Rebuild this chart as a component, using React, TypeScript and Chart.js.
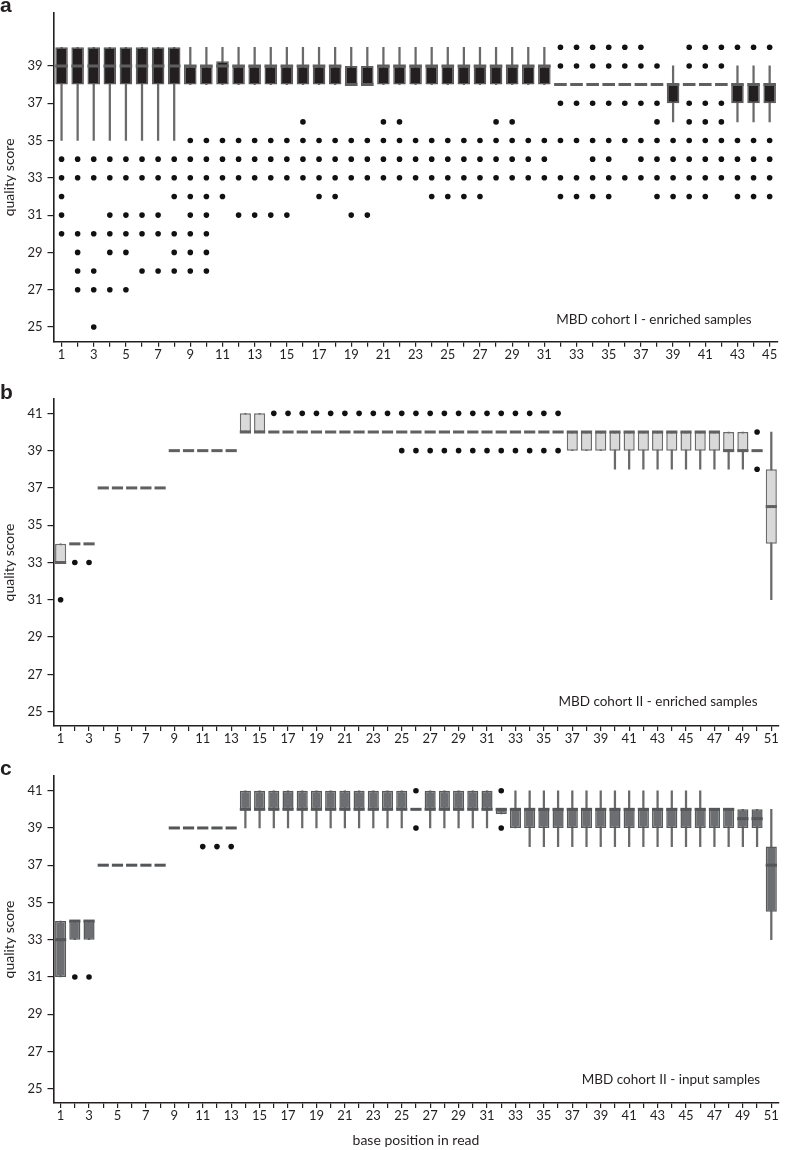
import React, { useEffect, useRef } from 'react';
import { Chart, registerables } from 'chart.js';
Chart.register(...registerables);

// ---------- categories ----------
const POS_A = ['1','2','3','4','5','6','7','8','9','10','11','12','13','14','15','16','17','18','19','20','21','22','23','24','25','26','27','28','29','30','31','32','33','34','35','36','37','38','39','40','41','42','43','44','45'];
const POS_BC = ['1','2','3','4','5','6','7','8','9','10','11','12','13','14','15','16','17','18','19','20','21','22','23','24','25','26','27','28','29','30','31','32','33','34','35','36','37','38','39','40','41','42','43','44','45','46','47','48','49','50','51'];
const Y_TICKS_A = [25, 27, 29, 31, 33, 35, 37, 39];
const Y_TICKS_BC = [25, 27, 29, 31, 33, 35, 37, 39, 41];

// ---------- panel a: MBD cohort I - enriched ----------
const A_Q1 = [
  38, 38, 38, 38, 38, 38, 38, 38, 38, 38,
  38, 38, 38, 38, 38, 38, 38, 38, 38, 38,
  38, 38, 38, 38, 38, 38, 38, 38, 38, 38,
  38, 38, 38, 38, 38, 38, 38, 38, 37, 38,
  38, 38, 37, 37, 37,
];
const A_Q3 = [
  40, 40, 40, 40, 40, 40, 40, 40, 39, 39,
  39.25, 39, 39, 39, 39, 39, 39, 39, 39, 39,
  39, 39, 39, 39, 39, 39, 39, 39, 39, 39,
  39, 38, 38, 38, 38, 38, 38, 38, 38, 38,
  38, 38, 38, 38, 38,
];
const A_MED = [
  39, 39, 39, 39, 39, 39, 39, 39, 39, 39,
  39, 39, 39, 39, 39, 39, 39, 39, 38, 38,
  39, 39, 39, 39, 39, 39, 39, 39, 39, 39,
  39, 38, 38, 38, 38, 38, 38, 38, 38, 38,
  38, 38, 38, 38, 38,
];
const A_WLO = [
  35, 35, 35, 35, 35, 35, 35, 35, 38, 38,
  38, 38, 38, 38, 38, 38, 38, 38, 38, 38,
  38, 38, 38, 38, 38, 38, 38, 38, 38, 38,
  38, 38, 38, 38, 38, 38, 38, 38, 36, 38,
  38, 38, 36, 36, 36,
];
const A_WHI = [
  40, 40, 40, 40, 40, 40, 40, 40, 40, 40,
  40, 40, 40, 40, 40, 40, 40, 40, 40, 40,
  40, 40, 40, 40, 40, 40, 40, 40, 40, 40,
  40, 38, 38, 38, 38, 38, 38, 38, 39, 38,
  38, 38, 39, 39, 39,
];
const A_OUT = [
  [34, 33, 32, 31, 30],
  [34, 33, 30, 29, 28, 27],
  [34, 33, 30, 28, 27, 25],
  [34, 33, 31, 30, 29, 27],
  [34, 33, 31, 30, 29, 27],
  [34, 33, 31, 30, 28],
  [34, 33, 31, 30, 28],
  [34, 33, 32, 30, 29, 28],
  [35, 34, 33, 32, 31, 30, 29, 28],
  [35, 34, 33, 32, 31, 30, 29, 28],
  [35, 34, 33, 32],
  [35, 34, 33, 31],
  [35, 34, 33, 31],
  [35, 34, 33, 31],
  [35, 34, 33, 31],
  [36, 35, 34, 33],
  [35, 34, 33, 32],
  [35, 34, 33, 32],
  [35, 34, 33, 31],
  [35, 34, 33, 31],
  [36, 35, 34, 33],
  [36, 35, 34, 33],
  [35, 34, 33],
  [35, 34, 33, 32],
  [35, 34, 33, 32],
  [35, 34, 33, 32],
  [35, 34, 33, 32],
  [36, 35, 34, 33],
  [36, 35, 34, 33],
  [35, 34, 33],
  [35, 34, 33],
  [40, 39, 37, 35, 33, 32],
  [40, 39, 37, 35, 33, 32],
  [40, 39, 37, 35, 34, 33, 32],
  [40, 39, 37, 35, 34, 33, 32],
  [40, 39, 37, 35, 33],
  [40, 39, 37, 35, 34, 33],
  [39, 37, 36, 35, 34, 33, 32],
  [35, 34, 33, 32],
  [40, 39, 37, 36, 35, 34, 33, 32],
  [40, 39, 37, 36, 35, 34, 33, 32],
  [40, 39, 37, 36, 35, 34, 33],
  [40, 35, 34, 33, 32],
  [40, 35, 34, 33, 32],
  [40, 35, 34, 33, 32],
];

// ---------- panel b: MBD cohort II - enriched ----------
const B_Q1 = [
  33, 34, 34, 37, 37, 37, 37, 37, 39, 39,
  39, 39, 39, 40, 40, 40, 40, 40, 40, 40,
  40, 40, 40, 40, 40, 40, 40, 40, 40, 40,
  40, 40, 40, 40, 40, 40, 39, 39, 39, 39,
  39, 39, 39, 39, 39, 39, 39, 39, 39, 39,
  34,
];
const B_Q3 = [
  34, 34, 34, 37, 37, 37, 37, 37, 39, 39,
  39, 39, 39, 41, 41, 40, 40, 40, 40, 40,
  40, 40, 40, 40, 40, 40, 40, 40, 40, 40,
  40, 40, 40, 40, 40, 40, 40, 40, 40, 40,
  40, 40, 40, 40, 40, 40, 40, 40, 40, 39,
  38,
];
const B_MED = [
  33, 34, 34, 37, 37, 37, 37, 37, 39, 39,
  39, 39, 39, 40, 40, 40, 40, 40, 40, 40,
  40, 40, 40, 40, 40, 40, 40, 40, 40, 40,
  40, 40, 40, 40, 40, 40, 40, 40, 40, 40,
  40, 40, 40, 40, 40, 40, 40, 39, 39, 39,
  36,
];
const B_WLO = [
  33, 34, 34, 37, 37, 37, 37, 37, 39, 39,
  39, 39, 39, 40, 40, 40, 40, 40, 40, 40,
  40, 40, 40, 40, 40, 40, 40, 40, 40, 40,
  40, 40, 40, 40, 40, 40, 39, 39, 39, 38,
  38, 38, 38, 38, 38, 38, 38, 38, 38, 39,
  31,
];
const B_WHI = [
  34, 34, 34, 37, 37, 37, 37, 37, 39, 39,
  39, 39, 39, 41, 41, 40, 40, 40, 40, 40,
  40, 40, 40, 40, 40, 40, 40, 40, 40, 40,
  40, 40, 40, 40, 40, 40, 40, 40, 40, 40,
  40, 40, 40, 40, 40, 40, 40, 40, 40, 39,
  40,
];
const B_OUT = [
  [31], [33], [33], [], [], [], [], [], [], [],
  [], [], [], [], [], [41], [41], [41], [41], [41],
  [41], [41], [41], [41], [41, 39], [41, 39], [41, 39], [41, 39], [41, 39], [41, 39],
  [41, 39], [41, 39], [41, 39], [41, 39], [41, 39], [41, 39], [], [], [], [],
  [], [], [], [], [], [], [], [], [], [40, 38],
  [],
];

// ---------- panel c: MBD cohort II - input ----------
const C_Q1 = [
  31, 33, 33, 37, 37, 37, 37, 37, 39, 39,
  39, 39, 39, 40, 40, 40, 40, 40, 40, 40,
  40, 40, 40, 40, 40, 40, 40, 40, 40, 40,
  40, 39.75, 39, 39, 39, 39, 39, 39, 39, 39,
  39, 39, 39, 39, 39, 39, 39, 39, 39, 39,
  34.5,
];
const C_Q3 = [
  34, 34, 34, 37, 37, 37, 37, 37, 39, 39,
  39, 39, 39, 41, 41, 41, 41, 41, 41, 41,
  41, 41, 41, 41, 41, 40, 41, 41, 41, 41,
  41, 40.05, 40, 40, 40, 40, 40, 40, 40, 40,
  40, 40, 40, 40, 40, 40, 40, 40, 40, 40,
  38,
];
const C_MED = [
  33, 34, 34, 37, 37, 37, 37, 37, 39, 39,
  39, 39, 39, 40, 40, 40, 40, 40, 40, 40,
  40, 40, 40, 40, 40, 40, 40, 40, 40, 40,
  40, 40, 40, 40, 40, 40, 40, 40, 40, 40,
  40, 40, 40, 40, 40, 40, 40, 40, 39.5, 39.5,
  37,
];
const C_WLO = [
  31, 33, 33, 37, 37, 37, 37, 37, 39, 39,
  39, 39, 39, 39, 39, 39, 39, 39, 39, 39,
  39, 39, 39, 39, 39, 40, 39, 39, 39, 39,
  39, 39.75, 39, 38, 38, 38, 38, 38, 38, 38,
  38, 38, 38, 38, 38, 38, 38, 38, 38, 38,
  33,
];
const C_WHI = [
  34, 34, 34, 37, 37, 37, 37, 37, 39, 39,
  39, 39, 39, 41, 41, 41, 41, 41, 41, 41,
  41, 41, 41, 41, 41, 40, 41, 41, 41, 41,
  41, 40.05, 41, 41, 41, 41, 41, 41, 41, 41,
  41, 41, 41, 41, 41, 41, 40, 40, 40, 40,
  40,
];
const C_OUT = [
  [], [31], [31], [], [], [], [], [], [], [],
  [38], [38], [38], [], [], [], [], [], [], [],
  [], [], [], [], [], [41, 39], [], [], [], [],
  [], [41, 39], [], [], [], [], [], [], [], [],
  [], [], [], [], [], [], [], [], [], [],
  [],
];

const FONT = 'Lato';
const INK = '#231f20';

type Spec = {
  labels: string[];
  q1: number[]; q3: number[]; med: number[]; wlo: number[]; whi: number[]; out: number[][];
  yTicks: number[]; yMin: number; yMax: number;
  padTop: number; xAxisH: number; xTitle?: string;
  fill: string; border: string; median: string; whisker: string; medRadius: number;
};

function buildConfig(p: Spec): any {
  const boxes = p.labels.map((_, i) => (p.q1[i] === p.q3[i] ? null : [p.q1[i], p.q3[i]]));
  const whiskers = p.labels.map((_, i) => (p.wlo[i] === p.whi[i] ? null : [p.wlo[i], p.whi[i]]));
  const medians = p.labels.map((l, i) => ({ x: l, y: p.med[i] }));
  const outliers: { x: string; y: number }[] = [];
  p.out.forEach((arr, i) => arr.forEach((v) => outliers.push({ x: p.labels[i], y: v })));

  return {
    type: 'bar',
    data: {
      labels: p.labels,
      datasets: [
        {
          type: 'scatter', data: outliers, order: 0,
          pointRadius: 2.8, pointHoverRadius: 2.8, pointBackgroundColor: '#111', pointBorderWidth: 0,
        },
        {
          type: 'scatter', data: medians, order: 1,
          pointStyle: 'line', pointRadius: p.medRadius, pointHoverRadius: p.medRadius,
          pointBorderColor: p.median, pointBorderWidth: 3,
        },
        {
          type: 'bar', data: boxes, order: 2, grouped: false,
          backgroundColor: p.fill, borderColor: p.border, borderWidth: 1.5, borderSkipped: false,
          categoryPercentage: 1, barPercentage: 0.78,
        },
        {
          type: 'bar', data: whiskers, order: 3, grouped: false,
          backgroundColor: p.whisker, borderWidth: 0, barThickness: 1.6,
        },
      ],
    },
    options: {
      responsive: false,
      animation: false,
      events: [],
      layout: { padding: { top: p.padTop, right: 3.5, left: 0, bottom: 0 } },
      plugins: { legend: { display: false }, tooltip: { enabled: false } },
      scales: {
        x: {
          type: 'category',
          offset: true,
          grid: { display: true, drawOnChartArea: false, drawTicks: true, tickLength: 5, offset: false, color: INK, lineWidth: 1.2 },
          border: { display: true, color: INK, width: 1.6 },
          ticks: {
            autoSkip: false, maxRotation: 0, minRotation: 0, padding: 0, color: INK,
            font: { family: FONT, size: 13 },
            callback: function (this: any, v: any, i: number) { return i % 2 === 0 ? this.getLabelForValue(v) : ''; },
          },
          title: p.xTitle
            ? { display: true, text: p.xTitle, color: INK, font: { family: FONT, size: 14 }, padding: { top: 0, bottom: 1 } }
            : { display: false },
          afterFit: (s: any) => { s.height = p.xAxisH; },
        },
        y: {
          type: 'linear',
          min: p.yMin,
          max: p.yMax,
          afterBuildTicks: (s: any) => { s.ticks = p.yTicks.map((v) => ({ value: v })); },
          grid: { display: true, drawOnChartArea: false, drawTicks: true, tickLength: 6, color: INK, lineWidth: 1.2 },
          border: { display: true, color: INK, width: 1.6 },
          ticks: { padding: 5, color: INK, font: { family: FONT, size: 13 } },
          title: { display: true, text: 'quality score', color: INK, font: { family: FONT, size: 14 }, padding: { top: 1, bottom: 0 } },
          afterFit: (s: any) => { s.width = 53.5; },
        },
      },
    },
  };
}

const SPEC_A: Spec = {
  labels: POS_A, q1: A_Q1, q3: A_Q3, med: A_MED, wlo: A_WLO, whi: A_WHI, out: A_OUT,
  yTicks: Y_TICKS_A, yMin: 24.21, yMax: 41.84, padTop: 13, xAxisH: 28.3,
  fill: '#231f20', border: '#5b5b5c', median: '#5f5f60', whisker: '#6a6a6b', medRadius: 6.3,
};
const SPEC_B: Spec = {
  labels: POS_BC, q1: B_Q1, q3: B_Q3, med: B_MED, wlo: B_WLO, whi: B_WHI, out: B_OUT,
  yTicks: Y_TICKS_BC, yMin: 24.23, yMax: 41.77, padTop: 29, xAxisH: 24,
  fill: '#d9d9da', border: '#6b6b6c', median: '#606061', whisker: '#6a6a6b', medRadius: 5.6,
};
const SPEC_C: Spec = {
  labels: POS_BC, q1: C_Q1, q3: C_Q3, med: C_MED, wlo: C_WLO, whi: C_WHI, out: C_OUT,
  yTicks: Y_TICKS_BC, yMin: 24.23, yMax: 41.79, padTop: 26, xAxisH: 47, xTitle: 'base position in read',
  fill: '#6d6e71', border: '#58595b', median: '#555658', whisker: '#6a6a6b', medRadius: 5.6,
};

function Panel({ spec, top, height }: { spec: Spec; top: number; height: number }) {
  const ref = useRef<HTMLCanvasElement>(null);
  useEffect(() => {
    const chart = new Chart(ref.current as HTMLCanvasElement, buildConfig(spec));
    return () => chart.destroy();
  }, [spec]);
  return (
    <canvas
      ref={ref}
      width={787}
      height={height}
      style={{ position: 'absolute', left: 0, top, width: 787, height, display: 'block' }}
    />
  );
}

const letterStyle: React.CSSProperties = {
  position: 'absolute', left: 0, fontFamily: '"Liberation Sans", Arial, sans-serif', fontWeight: 700,
  fontSize: 21, lineHeight: '21px', color: INK,
};
const noteStyle: React.CSSProperties = {
  position: 'absolute', width: 300, textAlign: 'center', fontFamily: FONT, fontSize: 13.5,
  lineHeight: '16px', color: INK, whiteSpace: 'nowrap',
};

export default function App() {
  return (
    <div style={{ position: 'absolute', left: 0, top: 0, width: 787, height: 1150, background: '#fff', overflow: 'hidden' }}>
      <Panel spec={SPEC_A} top={0} height={370} />
      <Panel spec={SPEC_B} top={370} height={380} />
      <Panel spec={SPEC_C} top={750} height={400} />
      <div style={{ ...letterStyle, top: -6 }}>a</div>
      <div style={{ ...letterStyle, top: 381 }}>b</div>
      <div style={{ ...letterStyle, top: 757 }}>c</div>
      <div style={{ ...noteStyle, left: 654 - 150, top: 311 }}>MBD cohort I - enriched samples</div>
      <div style={{ ...noteStyle, left: 658 - 150, top: 693 }}>MBD cohort II - enriched samples</div>
      <div style={{ ...noteStyle, left: 671 - 150, top: 1071 }}>MBD cohort II - input samples</div>
    </div>
  );
}
